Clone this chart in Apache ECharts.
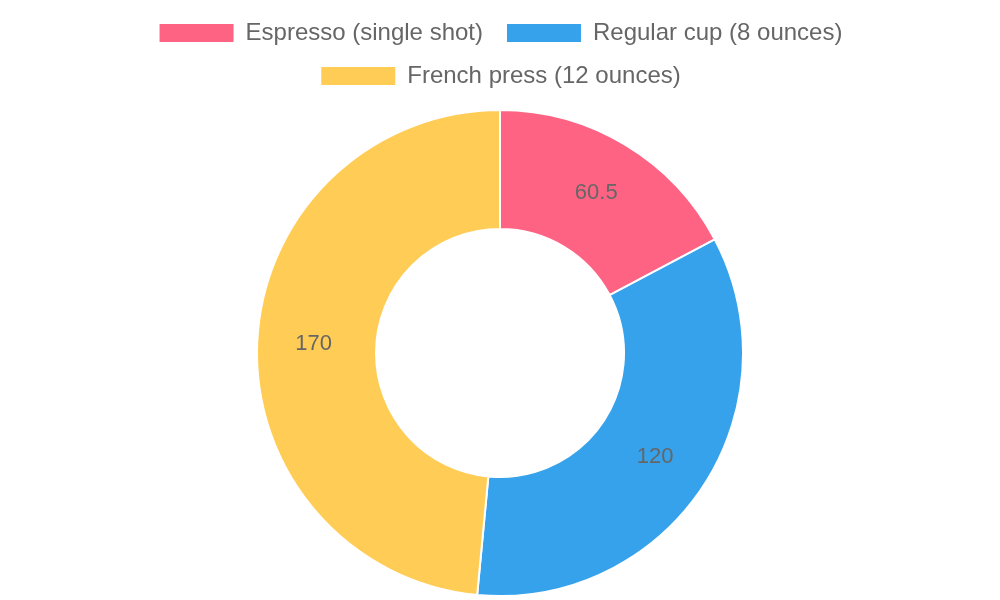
<!DOCTYPE html>
<html>
<head>
<meta charset="utf-8">
<script src="https://cdn.jsdelivr.net/npm/echarts@6/dist/echarts.min.js"></script>
<style>
  html, body { margin: 0; padding: 0; background: #fff; }
  #chart { width: 1000px; height: 600px; }
</style>
</head>
<body>
<div id="chart"></div>
<script>
const categories = ["Espresso (single shot)", "Regular cup (8 ounces)", "French press (12 ounces)"];
const values = [60.5, 120, 170];
const colors = ["#ff6384", "#36a2eb", "#ffcd56"];

const chart = echarts.init(document.getElementById("chart"));

// two legend rows, each centred like the original
const legendBase = {
  left: "center",
  itemWidth: 76,
  itemHeight: 20,
  itemGap: 22,
  icon: "rect",
  textStyle: { color: "#666", fontSize: 24, padding: [0, 0, 0, 6] },
};

const option = {
  animation: false,
  textStyle: { fontFamily: "Liberation Sans, Arial, sans-serif" },
  legend: [
    Object.assign({}, legendBase, { top: 16, data: categories.slice(0, 2) }),
    Object.assign({}, legendBase, { top: 59, data: categories.slice(2) }),
  ],
  series: [
    {
      type: "pie",
      center: [500, 353],
      radius: [124, 243],
      startAngle: 90,
      clockwise: true,
      avoidLabelOverlap: false,
      itemStyle: { borderColor: "#fff", borderWidth: 2 },
      label: {
        show: true,
        position: "inside",
        color: "#666",
        fontSize: 22,
        formatter: (p) => String(p.value),
      },
      labelLine: { show: false },
      emphasis: { disabled: true },
      data: categories.map((name, i) => ({
        name,
        value: values[i],
        itemStyle: { color: colors[i] },
      })),
    },
  ],
};

chart.setOption(option);
</script>
</body>
</html>
